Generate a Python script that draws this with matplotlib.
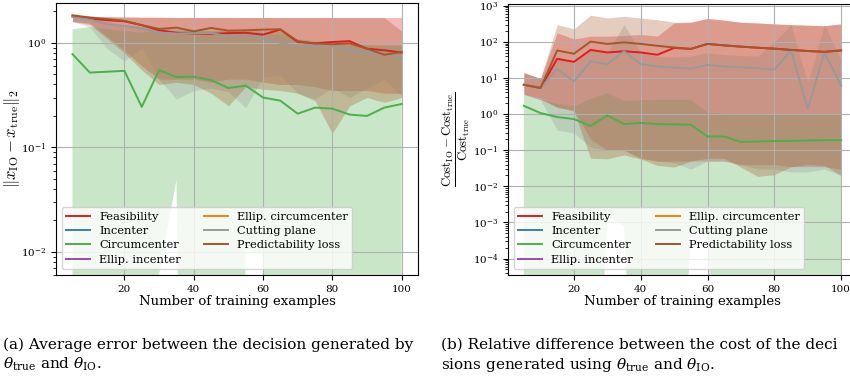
import matplotlib
matplotlib.use("Agg")
import matplotlib.pyplot as plt

plt.rcParams['font.family'] = 'DejaVu Serif'
plt.rcParams['mathtext.fontset'] = 'cm'

# number of training examples
n_train = [5, 10, 15, 20, 25, 30, 35, 40, 45, 50, 55, 60, 65, 70, 75, 80, 85, 90, 95, 100]

methods = ['Feasibility', 'Incenter', 'Circumcenter', 'Ellip. incenter',
           'Ellip. circumcenter', 'Cutting plane', 'Predictability loss']
colors = ['#e41a1c', '#377eb8', '#4daf4a', '#984ea3', '#ff7f00', '#999999', '#a65628']

# (a) decision error ||x_IO - x_true||_2
err_feas = [1.80, 1.71, 1.65, 1.61, 1.48, 1.32, 1.25, 1.23, 1.22, 1.24, 1.25, 1.20, 1.34, 1.02, 0.99, 1.02, 1.04, 0.88, 0.85, 0.81]
err_feas_lo = [1.60, 1.55, 1.15, 0.85, 0.60, 0.45, 0.45, 0.45, 0.42, 0.45, 0.45, 0.42, 0.40, 0.40, 0.38, 0.35, 0.35, 0.35, 0.33, 0.33]
err_feas_hi = [1.85, 1.80, 1.78, 1.77, 1.76, 1.76, 1.75, 1.75, 1.75, 1.75, 1.75, 1.75, 1.75, 1.75, 1.75, 1.75, 1.75, 1.75, 1.75, 1.75]

err_circ = [0.78, 0.52, 0.53, 0.54, 0.244, 0.55, 0.47, 0.475, 0.44, 0.37, 0.39, 0.30, 0.28, 0.21, 0.24, 0.235, 0.206, 0.20, 0.24, 0.26]
err_circ_lo = [1e-12, 1e-12, 1e-12, 1e-12, 1e-12, 0.006, 0.0485, 1e-12, 1e-12, 1e-12, 0.0105, 0.0095, 1e-12, 1e-12, 1e-12, 1e-12, 1e-12, 1e-12, 1e-12, 1e-12]
err_circ_hi = [1.35, 1.42, 1.35, 1.30, 1.25, 1.30, 1.30, 1.30, 1.30, 1.30, 1.30, 1.30, 1.28, 1.05, 1.00, 1.00, 0.95, 0.95, 0.95, 0.95]

err_cut = [1.77, 1.67, 1.51, 1.45, 1.37, 1.26, 1.23, 1.24, 1.24, 1.16, 1.19, 1.11, 1.00, 0.93, 0.93, 0.93, 0.85, 0.81, 0.80, 0.71]
err_cut_lo = [1.60, 1.42, 0.88, 0.67, 0.90, 0.45, 0.29, 0.35, 0.37, 0.34, 0.24, 0.47, 0.49, 0.33, 0.29, 0.37, 0.30, 0.37, 0.45, 0.31]
err_cut_hi = [1.82, 1.75, 1.60, 1.50, 1.45, 1.40, 1.35, 1.35, 1.30, 1.30, 1.30, 1.25, 1.20, 1.10, 1.05, 1.05, 1.00, 0.95, 0.95, 0.95]

err_pred = [1.84, 1.75, 1.69, 1.63, 1.48, 1.36, 1.40, 1.29, 1.39, 1.31, 1.32, 1.34, 1.35, 1.04, 0.99, 0.97, 0.99, 0.88, 0.77, 0.82]
err_pred_lo = [1.60, 1.50, 1.10, 0.80, 0.55, 0.40, 0.42, 0.40, 0.33, 0.25, 0.38, 0.36, 0.35, 0.33, 0.28, 0.136, 0.25, 0.30, 0.27, 0.30]
err_pred_hi = [1.85, 1.80, 1.78, 1.77, 1.76, 1.76, 1.75, 1.75, 1.75, 1.75, 1.75, 1.75, 1.75, 1.75, 1.75, 1.75, 1.75, 1.75, 1.75, 1.30]

# (b) relative cost difference
cost_feas = [6.5, 5.3, 34, 28, 60, 51, 55, 51, 44, 68, 64, 88, 80, 74, 69, 65, 60, 56, 53, 58]
cost_feas_lo = [3.5, 2.8, 1.5, 1.3, 0.2, 0.1, 0.1, 0.06, 0.05, 0.05, 0.05, 0.05, 0.05, 0.04, 0.04, 0.04, 0.035, 0.035, 0.035, 0.03]
cost_feas_hi = [14, 9.7, 178, 120, 144, 144, 150, 160, 145, 335, 350, 445, 400, 350, 335, 315, 300, 290, 280, 315]

cost_circ = [1.7, 1.07, 0.83, 0.73, 0.47, 0.92, 0.53, 0.57, 0.53, 0.52, 0.51, 0.24, 0.24, 0.17, 0.175, 0.18, 0.18, 0.185, 0.19, 0.19]
cost_circ_lo = [1e-12, 1e-12, 1e-12, 1e-12, 1e-12, 0.00148, 0.00078, 1e-12, 1e-12, 1e-12, 0.0005, 0.0005, 1e-12, 1e-12, 1e-12, 1e-12, 1e-12, 1e-12, 1e-12, 1e-12]
cost_circ_hi = [3.4, 2.6, 1.9, 1.6, 2.6, 3.8, 2.3, 2.4, 2.5, 2.5, 2.5, 1.1, 1.0, 1.0, 1.0, 1.0, 1.0, 1.0, 1.0, 1.0]

cost_cut = [6.5, 5.3, 17.8, 8.0, 29, 24, 55, 24, 21, 19.4, 18.1, 23, 21, 20, 18.6, 17, 58, 1.4, 51, 6.2]
cost_cut_lo = [3.5, 2.5, 0.36, 0.30, 0.12, 0.10, 0.10, 0.06, 0.05, 0.045, 0.03, 0.05, 0.05, 0.04, 0.03, 0.03, 0.025, 0.025, 0.03, 0.02]
cost_cut_hi = [14, 9.7, 40, 25, 60, 50, 300, 50, 40, 38, 40, 50, 45, 42, 40, 100, 300, 7.4, 300, 32]

cost_pred = [6.5, 5.3, 58, 47, 102, 88, 97, 88, 78, 70, 64, 88, 80, 74, 69, 65, 60, 56, 53, 58]
cost_pred_lo = [3.5, 2.5, 1.6, 1.2, 0.06, 0.058, 0.074, 0.057, 0.038, 0.034, 0.05, 0.06, 0.06, 0.034, 0.019, 0.021, 0.035, 0.04, 0.038, 0.02]
cost_pred_hi = [14, 9.7, 300, 230, 550, 460, 510, 460, 410, 350, 350, 445, 400, 350, 335, 315, 300, 290, 280, 315]


def draw_panel(ax, series):
    for name, color in zip(methods, colors):
        if name in series:
            mid, lo, hi = series[name]
            ax.fill_between(n_train, lo, hi, color=color, alpha=0.3, linewidth=0)
            ax.plot(n_train, mid, color=color, linewidth=1.4, label=name)
        else:
            # these methods have no visible curve, only a legend entry
            ax.plot([], [], color=color, linewidth=1.4, label=name)
    ax.set_yscale('log')
    ax.grid(True, which='major', color='#b0b0b0', linewidth=0.8)
    ax.set_xticks([20, 40, 60, 80, 100])
    ax.set_xlim(0.25, 104.75)
    ax.tick_params(labelsize=7.5)
    ax.set_xlabel('Number of training examples', fontsize=9.5, labelpad=1)
    ax.legend(loc='lower left', ncol=2, fontsize=8.2, framealpha=0.8,
              handlelength=2.1, labelspacing=0.38, columnspacing=2.0)


fig = plt.figure(figsize=(8.5, 3.79), dpi=100)
ax1 = fig.add_axes([0.0659, 0.2744, 0.4259, 0.7177])
ax2 = fig.add_axes([0.5976, 0.2744, 0.4106, 0.715])

draw_panel(ax1, {
    'Feasibility': (err_feas, err_feas_lo, err_feas_hi),
    'Circumcenter': (err_circ, err_circ_lo, err_circ_hi),
    'Cutting plane': (err_cut, err_cut_lo, err_cut_hi),
    'Predictability loss': (err_pred, err_pred_lo, err_pred_hi),
})
ax1.set_ylim(0.006, 2.41)
ax1.set_ylabel(r'$\Vert x_{\rm IO} - x_{\rm true}\Vert_2$', fontsize=12)
ax1.yaxis.set_label_coords(-0.095, 0.5)

draw_panel(ax2, {
    'Feasibility': (cost_feas, cost_feas_lo, cost_feas_hi),
    'Circumcenter': (cost_circ, cost_circ_lo, cost_circ_hi),
    'Cutting plane': (cost_cut, cost_cut_lo, cost_cut_hi),
    'Predictability loss': (cost_pred, cost_pred_lo, cost_pred_hi),
})
ax2.set_ylim(3.5e-5, 1.12e3)
ax2.set_yticks([1e-4, 1e-3, 1e-2, 1e-1, 1e0, 1e1, 1e2, 1e3])
ax2.set_ylabel(r'$\frac{\rm Cost_{IO} - Cost_{true}}{\rm Cost_{true}}$', fontsize=13)
ax2.yaxis.set_label_coords(-0.1, 0.5)

# figure captions under the panels
cap = dict(fontsize=11, family='DejaVu Serif', math_fontfamily='dejavuserif')
fig.text(3 / 850, 1 - 349 / 379, '(a) Average error between the decision generated by', **cap)
fig.text(3 / 850, 1 - 369 / 379, r'$\theta_{\rm true}$ and $\theta_{\rm IO}$.', **cap)
fig.text(441 / 850, 1 - 349 / 379, '(b) Relative difference between the cost of the deci', **cap)
fig.text(441 / 850, 1 - 369 / 379, r'sions generated using $\theta_{\rm true}$ and $\theta_{\rm IO}$.', **cap)

fig.savefig('out.png', dpi=100)
